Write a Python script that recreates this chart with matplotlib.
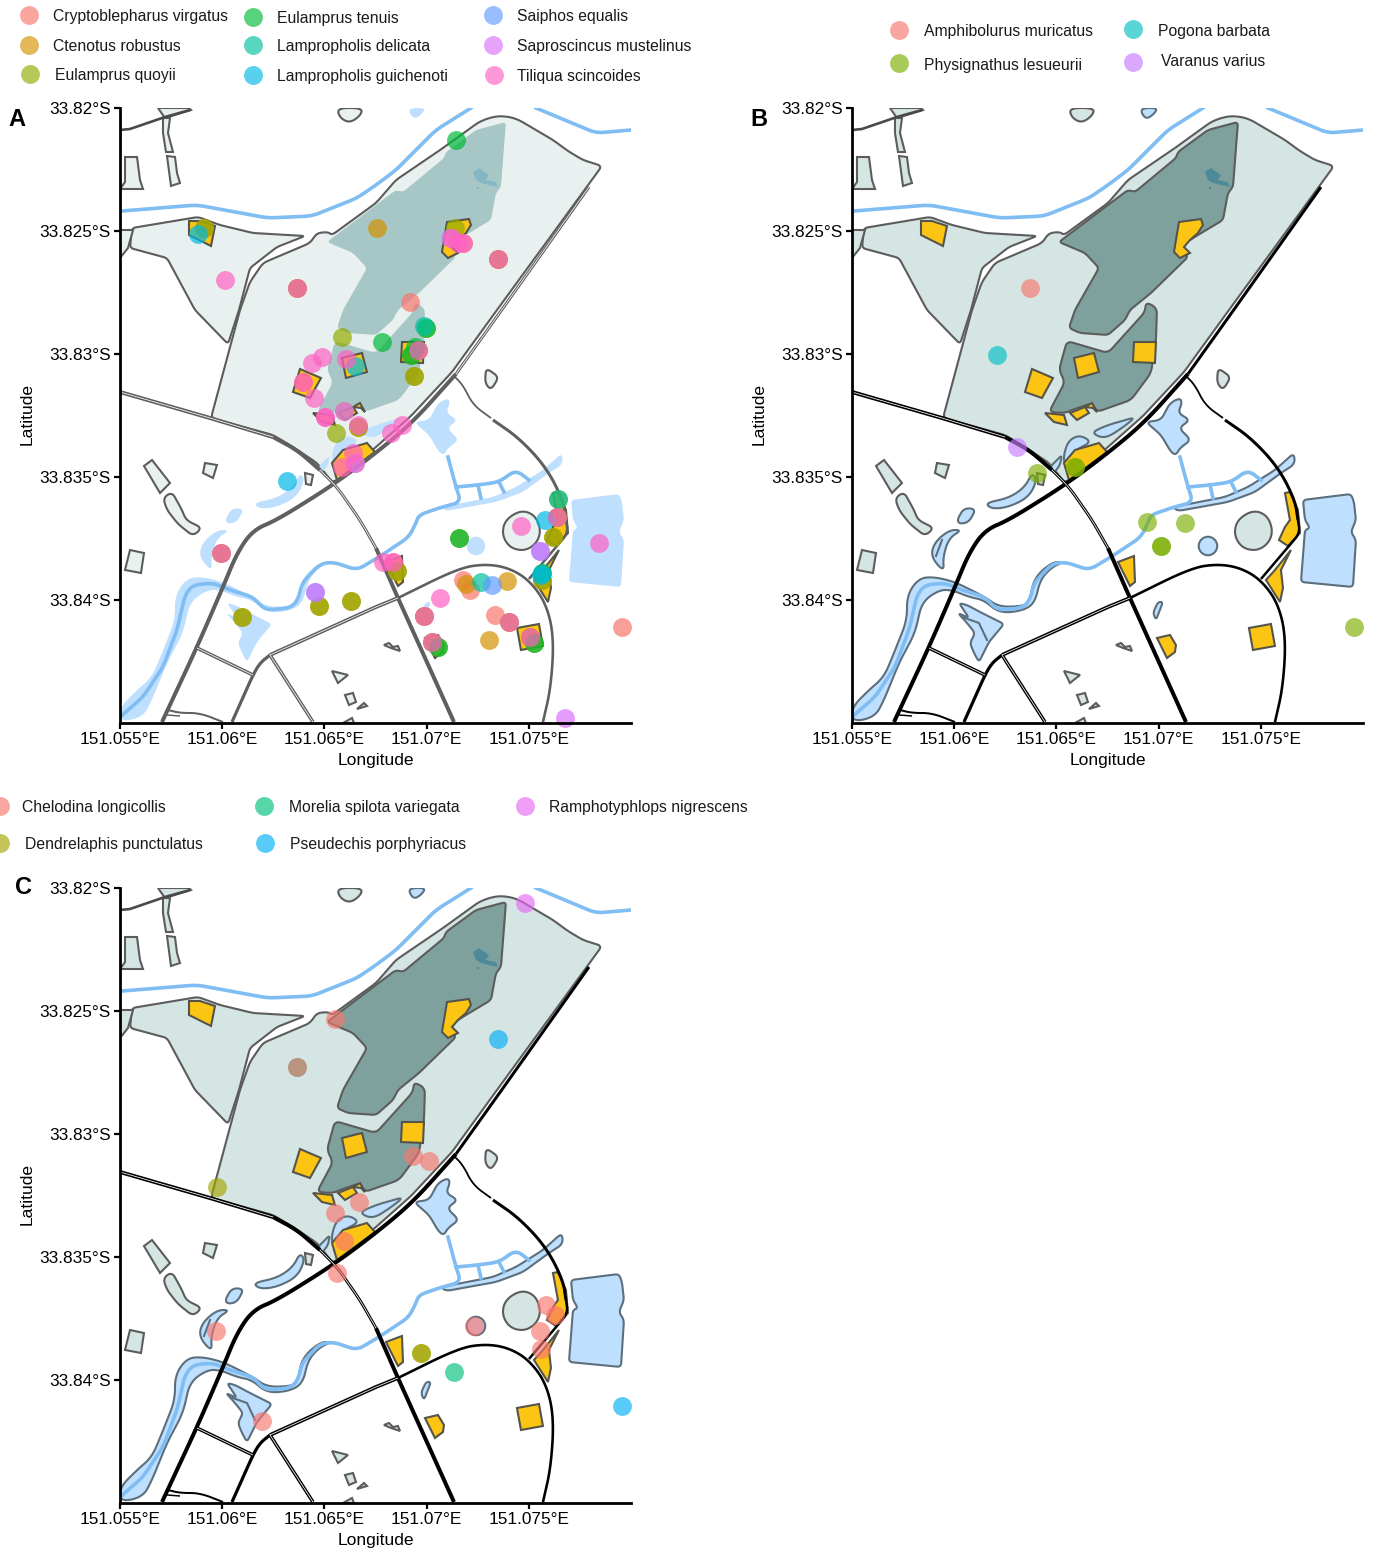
import numpy as np
import matplotlib
matplotlib.use('Agg')
import matplotlib.pyplot as plt
from matplotlib.patches import Polygon

plt.rcParams['font.family'] = ['Liberation Sans', 'DejaVu Sans']

W, H = 1373, 1550

# Species records (lon, lat)
crypto_lon = [151.06918, 151.07177, 151.07212, 151.07334, 151.07402, 151.07955, 151.07505, 151.07637, 151.06987,
              151.07026, 151.07348, 151.06366, 151.05994, 151.06395, 151.06957, 151.07177, 151.06835, 151.06649]
crypto_lat = [-33.82789, -33.83919, -33.83959, -33.84061, -33.84089, -33.84110, -33.84150, -33.83663, -33.84065,
              -33.84171, -33.82614, -33.82732, -33.83809, -33.83114, -33.82984, -33.82549, -33.83846, -33.83443]
cteno_lon = [151.06757, 151.05911, 151.06938, 151.06664, 151.06595, 151.07192, 151.07392, 151.07304, 151.06855,
             151.06630, 151.06473, 151.06097, 151.07564, 151.07617]
cteno_lat = [-33.82488, -33.82488, -33.83089, -33.83297, -33.83232, -33.83935, -33.83923, -33.84163, -33.83882,
             -33.84004, -33.84024, -33.84069, -33.83919, -33.83744]
quoyii_lon = [151.05911, 151.07138, 151.06586, 151.06996, 151.06923, 151.06957, 151.06938, 151.06556, 151.06664,
              151.06855, 151.06630, 151.06473, 151.06097, 151.07564, 151.07617, 151.07642, 151.07158, 151.07524,
              151.07055, 151.07637, 151.07348, 151.06366, 151.05994, 151.06987, 151.07402, 151.07505, 151.07026]
quoyii_lat = [-33.82488, -33.82488, -33.82931, -33.82894, -33.83004, -33.82984, -33.83089, -33.83321, -33.83297,
              -33.83882, -33.84004, -33.84024, -33.84069, -33.83919, -33.83744, -33.83589, -33.83748, -33.84175,
              -33.84191, -33.83663, -33.82614, -33.82732, -33.83809, -33.84065, -33.84089, -33.84150, -33.84171]
tenuis_lon = [151.07143, 151.06781, 151.06996, 151.06943, 151.06923, 151.07158, 151.07524, 151.07055, 151.07564]
tenuis_lat = [-33.82130, -33.82951, -33.82894, -33.82972, -33.83004, -33.83748, -33.84175, -33.84191, -33.83890]
delicata_lon = [151.06987, 151.07642, 151.07265, 151.07564]
delicata_lat = [-33.82886, -33.83589, -33.83927, -33.83890]
guich_lon = [151.05881, 151.06649, 151.06317, 151.07578, 151.07559]
guich_lat = [-33.82512, -33.83049, -33.83516, -33.83675, -33.83898]
saiphos_lon = [151.07319, 151.07554, 151.06454]
saiphos_lat = [-33.83939, -33.83801, -33.83967]
sapro_lon = [151.06595, 151.06649, 151.07554, 151.06454, 151.07676, 151.07114]
sapro_lat = [-33.83232, -33.83443, -33.83801, -33.83967, -33.84480, -33.82528]
tiliqua_lon = [151.06013, 151.06366, 151.05994, 151.07348, 151.07123, 151.07153, 151.07177, 151.06439, 151.06488,
               151.06605, 151.06395, 151.06449, 151.06502, 151.06502, 151.06664, 151.06825, 151.06879, 151.06639,
               151.06586, 151.06957, 151.07461, 151.07637, 151.07842, 151.06786, 151.06835, 151.07065, 151.06987,
               151.07402, 151.07505, 151.07026]
tiliqua_lat = [-33.82699, -33.82732, -33.83809, -33.82614, -33.82528, -33.82549, -33.82549, -33.83037, -33.83012,
               -33.83020, -33.83114, -33.83179, -33.83256, -33.83256, -33.83289, -33.83321, -33.83289, -33.83402,
               -33.83459, -33.82984, -33.83699, -33.83663, -33.83768, -33.83846, -33.83846, -33.83992, -33.84065,
               -33.84089, -33.84150, -33.84171]

amphi_lon = [151.06370]
amphi_lat = [-33.82732]
physi_lon = [151.06405, 151.06590, 151.06590, 151.06943, 151.07128, 151.07011, 151.07011, 151.07955]
physi_lat = [-33.83484, -33.83459, -33.83459, -33.83683, -33.83687, -33.83780, -33.83780, -33.84110]
pogona_lon = [151.06209]
pogona_lat = [-33.83004]
varanus_lon = [151.06307]
varanus_lat = [-33.83378]

chelo_lon = [151.06551, 151.06366, 151.06933, 151.07011, 151.06669, 151.06551, 151.06595, 151.06561, 151.05969,
             151.07231, 151.07583, 151.07627, 151.07554, 151.07559, 151.06194]
chelo_lat = [-33.82533, -33.82728, -33.83089, -33.83110, -33.83276, -33.83321, -33.83435, -33.83565, -33.83801,
             -33.83780, -33.83695, -33.83736, -33.83801, -33.83874, -33.84167]
dendro_lon = [151.05974, 151.06972, 151.06972]
dendro_lat = [-33.83215, -33.83890, -33.83890]
morelia_lon = [151.07133, 151.06366]
morelia_lat = [-33.83967, -33.82728]
pseud_lon = [151.07348, 151.07955]
pseud_lat = [-33.82614, -33.84106]
rampho_lon = [151.07480]
rampho_lat = [-33.82061]

names_a = ['Cryptoblepharus virgatus', 'Ctenotus robustus', 'Eulamprus quoyii', 'Eulamprus tenuis',
           'Lampropholis delicata', 'Lampropholis guichenoti', 'Saiphos equalis', 'Saproscincus mustelinus',
           'Tiliqua scincoides']
colors_a = ['#F8766D', '#D39200', '#93AA00', '#00BA38', '#00C19F', '#00B9E3', '#619CFF', '#DB72FB', '#FF61C3']
names_b = ['Amphibolurus muricatus', 'Physignathus lesueurii', 'Pogona barbata', 'Varanus varius']
colors_b = ['#F8766D', '#7CAE00', '#00BFC4', '#C77CFF']
names_c = ['Chelodina longicollis', 'Dendrelaphis punctulatus', 'Morelia spilota variegata',
           'Pseudechis porphyriacus', 'Ramphotyphlops nigrescens']
colors_c = ['#F8766D', '#A3A500', '#00BF7D', '#00B0F6', '#E76BF3']

lon_ticks = [151.055, 151.06, 151.065, 151.07, 151.075]
lon_labels = ['151.055°E', '151.06°E', '151.065°E', '151.07°E', '151.075°E']
lat_ticks = [-33.82, -33.825, -33.83, -33.835, -33.84]
lat_labels = ['33.82°S', '33.825°S', '33.83°S', '33.835°S', '33.84°S']

# Base map, traced on a grid where 102.25 units = 0.005 deg lon and 123 units = 0.005 deg lat
# land shapes: (trace, corner rounding)
land = [
    ([(211,418),(240,310),(250,282),(263,263),(310,243),(317,233),(328,232),(332,235),(376,203),(396,180),(443,148),
      (479,122),(489,118),(499,116),(510,117),(519,120),(536,130),(553,140),(568,151),(583,160),(602,166),(586,188),
      (497,310),(452,372),(411,416),(376,447),(333,483),(317,463),(293,447),(273,435)], 2.5),
    ([(132,228),(198,217),(220,225),(253,233),(305,236),(277,247),(250,268),(239,310),(228,344),(195,310),(167,258),(130,248)], 2),
    ([(120,230),(133,230),(128,248),(120,258)], 0),
    ([(158,108),(189,108),(191,110),(165,118)], 0),
    ([(163,118),(170,118),(168,133),(173,152),(166,152),(163,133)], 0),
    ([(125,157),(137,157),(140,180),(143,189),(120,189),(125,182)], 0),
    ([(167,156),(175,157),(177,173),(180,183),(171,186)], 0),
    ([(337,108),(362,108),(361,115),(350,123),(340,118)], 6),
    ([(486,368),(499,377),(491,390),(485,383)], 3),
    ([(144,466),(152,460),(170,483),(160,493)], 0),
    ([(163,498),(172,492),(182,510),(186,520),(202,528),(193,536),(178,524),(167,510)], 3),
    ([(205,463),(217,465),(213,478),(203,473)], 0),
    ([(130,550),(144,553),(141,573),(125,570)], 0),
    ([(521,510),(535,515),(541,530),(537,543),(525,551),(510,548),(502,535),(505,520)], 12),
    ([(332,671),(348,675),(338,683)], 0),
    ([(345,695),(353,693),(356,702),(349,705)], 0),
    ([(357,709),(364,703),(367,706)], 0),
    ([(343,723),(352,718),(354,723)], 0),
    ([(384,645),(389,643),(393,647),(398,646),(400,651),(391,648)], 0),
    ([(305,473),(313,475),(311,485),(306,484)], 0),
]
core = [
    ([(506,122),(476,130),(446,152),(444,158),(403,192),(396,190),(376,205),(327,242),(353,253),(367,268),(343,310),
      (337,328),(348,333),(376,335),(393,320),(398,310),(419,293),(456,257),(450,245),(466,235),(491,220),(496,193),(501,187)], 2),
    ([(335,341),(376,353),(413,312),(414,302),(425,308),(424,340),(419,373),(399,400),(376,408),(365,412),(360,403),
      (340,410),(333,413),(317,412),(333,382),(327,370)], 3),
]
lake = [
    [(473,172),(479,168),(489,175),(486,180),(496,182),(498,187),(489,185),(481,183),(476,180)],
    [(477,187),(479,187),(479,189),(477,189)],
]
water = [
    ([(571,500),(619,494),(622,502),(624,520),(619,532),(624,540),(621,587),(569,582),(573,530),(578,528),(573,520)], 2),
    ([(476,536),(483,539),(486,546),(483,553),(476,556),(469,553),(466,546),(469,539)], 8),
    ([(409,112),(411,108),(426,108),(421,115),(414,119)], 4),
    ([(414,422),(429,420),(438,403),(448,398),(450,403),(446,413),(458,420),(447,428),(459,440),(448,448),(444,455),
      (439,452),(429,435)], 3),
    ([(360,432),(376,425),(404,417),(390,428),(376,437),(367,437)], 4),
    ([(332,453),(337,440),(348,435),(360,442),(343,450),(332,465)], 5),
    ([(318,467),(330,455),(328,465),(322,473)], 2),
    ([(253,503),(277,498),(293,487),(300,473),(305,480),(297,497),(277,507),(260,509)], 6),
    ([(225,520),(232,508),(244,509),(237,522),(228,524)], 3),
    ([(230,530),(217,530),(202,543),(199,557),(212,572),(211,557),(217,538)], 5),
    ([(120,707),(137,690),(152,677),(162,653),(175,620),(175,595),(187,578),(203,577),(223,582),(253,597),(267,607),
      (293,606),(298,600),(302,578),(320,562),(332,562),(320,567),(308,580),(303,603),(290,611),(267,613),(252,600),
      (237,597),(220,590),(207,590),(190,602),(183,633),(167,663),(152,700),(143,717),(120,722)], 6),
    ([(441,507),(493,497),(516,487),(543,470),(562,453),(563,464),(549,473),(523,492),(496,502),(446,511)], 3),
    ([(227,603),(235,605),(250,613),(272,624),(257,642),(252,652),(247,662),(242,653),(238,643),(243,633),(235,623),
      (226,613),(237,618)], 2),
    ([(421,613),(426,602),(431,602),(424,620)], 2),
]
yellow = [
    [(189,221),(200,221),(215,226),(211,246),(189,235)],
    [(447,222),(469,219),(471,225),(466,233),(458,240),(452,247),(458,253),(448,258),(442,252),(444,240)],
    [(342,358),(362,353),(367,372),(346,378)],
    [(300,369),(321,378),(310,398),(293,392)],
    [(402,342),(424,342),(423,363),(401,362)],
    [(313,413),(332,415),(335,425),(322,422)],
    [(338,413),(353,407),(357,413),(345,420)],
    [(353,407),(360,403),(365,412),(361,408)],
    [(332,463),(343,450),(367,443),(375,452),(337,480)],
    [(553,493),(558,492),(566,510),(568,533),(556,546),(547,540),(553,527),(558,520)],
    [(559,550),(549,570),(551,588),(548,602),(534,580),(543,570)],
    [(386,562),(402,556),(403,582),(398,586)],
    [(425,638),(438,635),(444,645),(443,652),(435,658)],
    [(517,628),(539,624),(543,646),(521,650)],
]
# streams: river channel and the open drains
stream_lines = [
    [(120,717),(143,697),(163,667),(177,630),(185,595),(193,585),(213,583),(230,590),(253,597),(265,610),(290,608),
     (298,600),(302,583),(320,564),(333,562),(357,570),(379,557),(409,537),(416,523),(419,515),(439,508),(461,502),
     (456,487),(448,457)],
    [(456,487),(478,485),(499,482),(516,470),(529,480)],
    [(478,485),(481,498)],
    [(499,482),(504,492)],
    [(122,211),(197,205),(268,218),(312,216),(357,198),(376,185),(396,170),(436,130),(471,108)],
    [(536,108),(596,133),(631,130)],
]
# ridges inside the wetland shapes, only outlined on the darker maps
ridges = [
    [(230,617),(247,623),(255,640)],
    [(210,540),(204,556)],
]
# roads: (trace, width in px, white centre line: 0 never, 1 always, 2 only on the pale map, rounding)
roads = [
    ([(589,187),(501,311),(456,374)], 3.0, 2, 0),
    ([(456,374),(413,422),(376,453),(333,485),(277,520),(253,530),(237,553),(223,587),(197,647),(162,722)], 4.0, 0, 14),
    ([(120,392),(210,418),(273,437)], 4.0, 1, 0),
    ([(273,437),(297,450),(320,470)], 4.0, 0, 6),
    ([(320,470),(337,487),(360,520),(376,548)], 3.0, 1, 6),
    ([(376,548),(398,598),(454,722)], 4.0, 0, 0),
    ([(270,655),(376,607),(398,598)], 3.8, 1, 0),
    ([(398,598),(459,568),(486,564),(509,568),(529,580),(546,603),(554,637),(551,687),(543,722)], 2.6, 0, 16),
    ([(197,648),(253,675)], 3.5, 1, 0),
    ([(270,655),(260,663),(253,675),(232,722)], 3.2, 0, 6),
    ([(270,655),(313,722)], 3.5, 1, 0),
    ([(168,710),(180,713),(200,713),(223,722)], 2.0, 0, 6),
    ([(167,715),(180,716)], 1.5, 0, 0),
    ([(529,579),(568,533),(566,520)], 2.5, 0, 4),
    ([(566,520),(563,500),(546,467),(519,438),(493,420)], 3.0, 0, 10),
    ([(491,418),(473,405),(463,385),(453,375)], 1.8, 0, 6),
]
top_track = [(120,130),(130,129),(165,117),(190,110)]


def to_lonlat(trace):
    arr = np.array(trace, dtype=float)
    lon = 151.055 + (arr[:, 0] - 120) * 0.005 / 102.25
    lat = -(33.82 + (arr[:, 1] - 108) * 0.005 / 123)
    return np.column_stack([lon, lat])


def rounded(trace, r, closed=True, passes=3):
    # corner cutting, so traced curves do not look like polygons
    pts = [tuple(p) for p in trace]
    if r <= 0:
        return pts
    for i in range(passes):
        out = [pts[0]] if not closed else []
        n = len(pts) if closed else len(pts) - 1
        for k in range(n):
            p = np.array(pts[k], dtype=float)
            q = np.array(pts[(k + 1) % len(pts)], dtype=float)
            f = min(0.25, (r / (i + 1)) / max(np.hypot(*(q - p)), 1e-6))
            out.append(tuple(p + f * (q - p)))
            out.append(tuple(q - f * (q - p)))
        if not closed:
            out.append(pts[-1])
        pts = out
    return pts


def draw_map(ax, pale):
    road_col = '#5f5f5f' if pale else 'black'
    edge = '#5c5c5c'
    land_col = '#E9F1F0' if pale else '#D5E5E3'
    core_col = '#A7C7C7' if pale else '#7FA19E'
    lake_col = '#86B6C4' if pale else '#4F8A98'
    for t, r in land:
        ax.add_patch(Polygon(to_lonlat(rounded(t, r)), fc=land_col, ec=edge, lw=1.5, zorder=1))
    for t, r in core:
        ax.add_patch(Polygon(to_lonlat(rounded(t, r)), fc=core_col, ec='none' if pale else edge, lw=1.5, zorder=2))
    for t in lake:
        ax.add_patch(Polygon(to_lonlat(t), fc=lake_col, ec='none', zorder=3))
    for t, r in water:
        ax.add_patch(Polygon(to_lonlat(rounded(t, r)), fc='#BFDFFF', ec='none' if pale else '#5c6f7c', lw=1.5, zorder=3))
    if not pale:
        for t in ridges:
            p = to_lonlat(t)
            ax.plot(p[:, 0], p[:, 1], color='#5c6f7c', lw=1.5, zorder=3.5)
    for t in stream_lines:
        p = to_lonlat(rounded(t, 4, closed=False))
        ax.plot(p[:, 0], p[:, 1], color='#7FBDF3', lw=2.6, zorder=4, solid_joinstyle='round')
    for t in yellow:
        ax.add_patch(Polygon(to_lonlat(t), fc='#FDC513', ec='#55544a', lw=1.5, zorder=5))
    for t, w, centre, r in roads:
        p = to_lonlat(rounded(t, r, closed=False))
        ax.plot(p[:, 0], p[:, 1], color=road_col, lw=w * 0.72, zorder=6, solid_capstyle='butt', solid_joinstyle='round')
        if centre == 1 or (centre == 2 and pale):
            ax.plot(p[:, 0], p[:, 1], color='white', lw=0.55, zorder=6.1, solid_capstyle='butt')
    p = to_lonlat(top_track)
    ax.plot(p[:, 0], p[:, 1], color='#4a4a4a', lw=1.9, zorder=6, solid_capstyle='butt')


def make_axes(left, top):
    ax = fig.add_axes([left / W, 1 - (top + 615) / H, 511 / W, 615 / H])
    ax.set_xlim(151.055, 151.07999)
    ax.set_ylim(-33.845, -33.82)
    ax.set_xticks(lon_ticks)
    ax.set_xticklabels(lon_labels)
    ax.set_yticks(lat_ticks)
    ax.set_yticklabels(lat_labels)
    ax.tick_params(labelsize=12.4, width=1.6, length=4, pad=2.5, color='black')
    for s in ['top', 'right']:
        ax.spines[s].set_visible(False)
    for s in ['left', 'bottom']:
        ax.spines[s].set_linewidth(2)
        ax.spines[s].set_zorder(10)
    ax.set_xlabel('Longitude', fontsize=12.6, labelpad=4)
    ax.set_ylabel('Latitude', fontsize=12.6, labelpad=4)
    ax.yaxis.set_label_coords(-85 / 511, 0.503)
    return ax


fig = plt.figure(figsize=(W / 100, H / 100), dpi=100)

ax_a = make_axes(120, 108)
draw_map(ax_a, True)
series_a = [(crypto_lon, crypto_lat), (cteno_lon, cteno_lat), (quoyii_lon, quoyii_lat), (tenuis_lon, tenuis_lat),
            (delicata_lon, delicata_lat), (guich_lon, guich_lat), (saiphos_lon, saiphos_lat),
            (sapro_lon, sapro_lat), (tiliqua_lon, tiliqua_lat)]
for (lo, la), c in zip(series_a, colors_a):
    ax_a.scatter(lo, la, s=185, color=c, alpha=0.7, linewidths=0, zorder=7, clip_on=False)

ax_b = make_axes(852, 108)
draw_map(ax_b, False)
series_b = [(amphi_lon, amphi_lat), (physi_lon, physi_lat), (pogona_lon, pogona_lat), (varanus_lon, varanus_lat)]
for (lo, la), c in zip(series_b, colors_b):
    ax_b.scatter(lo, la, s=185, color=c, alpha=0.65, linewidths=0, zorder=7, clip_on=False)

ax_c = make_axes(120, 888)
draw_map(ax_c, False)
series_c = [(chelo_lon, chelo_lat), (dendro_lon, dendro_lat), (morelia_lon, morelia_lat), (pseud_lon, pseud_lat),
            (rampho_lon, rampho_lat)]
# reversed so the turtle records sit on top
for (lo, la), c in list(zip(series_c, colors_c))[::-1]:
    ax_c.scatter(lo, la, s=185, color=c, alpha=0.65, linewidths=0, zorder=7, clip_on=False)

# Hand-placed legends and panel letters on a full-figure overlay in pixels
over = fig.add_axes([0, 0, 1, 1], zorder=20)
over.set_xlim(0, W)
over.set_ylim(H, 0)
over.axis('off')


def legend_entry(dot_x, dot_y, text_x, text_y, name, color):
    over.scatter([dot_x], [dot_y], s=185, color=color, alpha=0.65, linewidths=0)
    over.text(text_x, text_y + 1.5, name, fontsize=11.3, va='center', ha='left', color='#1a1a1a')


legend_a = [(29, 15, 53, 15), (29, 45, 53, 45), (30, 74, 55, 74), (253, 17, 277, 17), (253, 45, 277, 45),
            (253, 75, 277, 75), (493, 15, 517, 15), (493, 45, 517, 45), (494, 75, 517, 75)]
for pos, n, c in zip(legend_a, names_a, colors_a):
    legend_entry(*pos, n, c)
legend_b = [(899, 30, 924, 30), (899, 63, 924, 64), (1133, 29, 1158, 30), (1133, 62, 1161, 60)]
for pos, n, c in zip(legend_b, names_b, colors_b):
    legend_entry(*pos, n, c)
legend_c = [(0, 806, 22, 806), (0, 843, 25, 843), (264, 806, 289, 806), (265, 843, 290, 843), (525, 806, 549, 806)]
for pos, n, c in zip(legend_c, names_c, colors_c):
    legend_entry(*pos, n, c)

for lab, x, y in [('A', 17, 119), ('B', 759, 119), ('C', 24, 887)]:
    over.text(x, y, lab, fontsize=17, fontweight='bold', ha='center', va='center')

fig.savefig('out.png', dpi=100)
